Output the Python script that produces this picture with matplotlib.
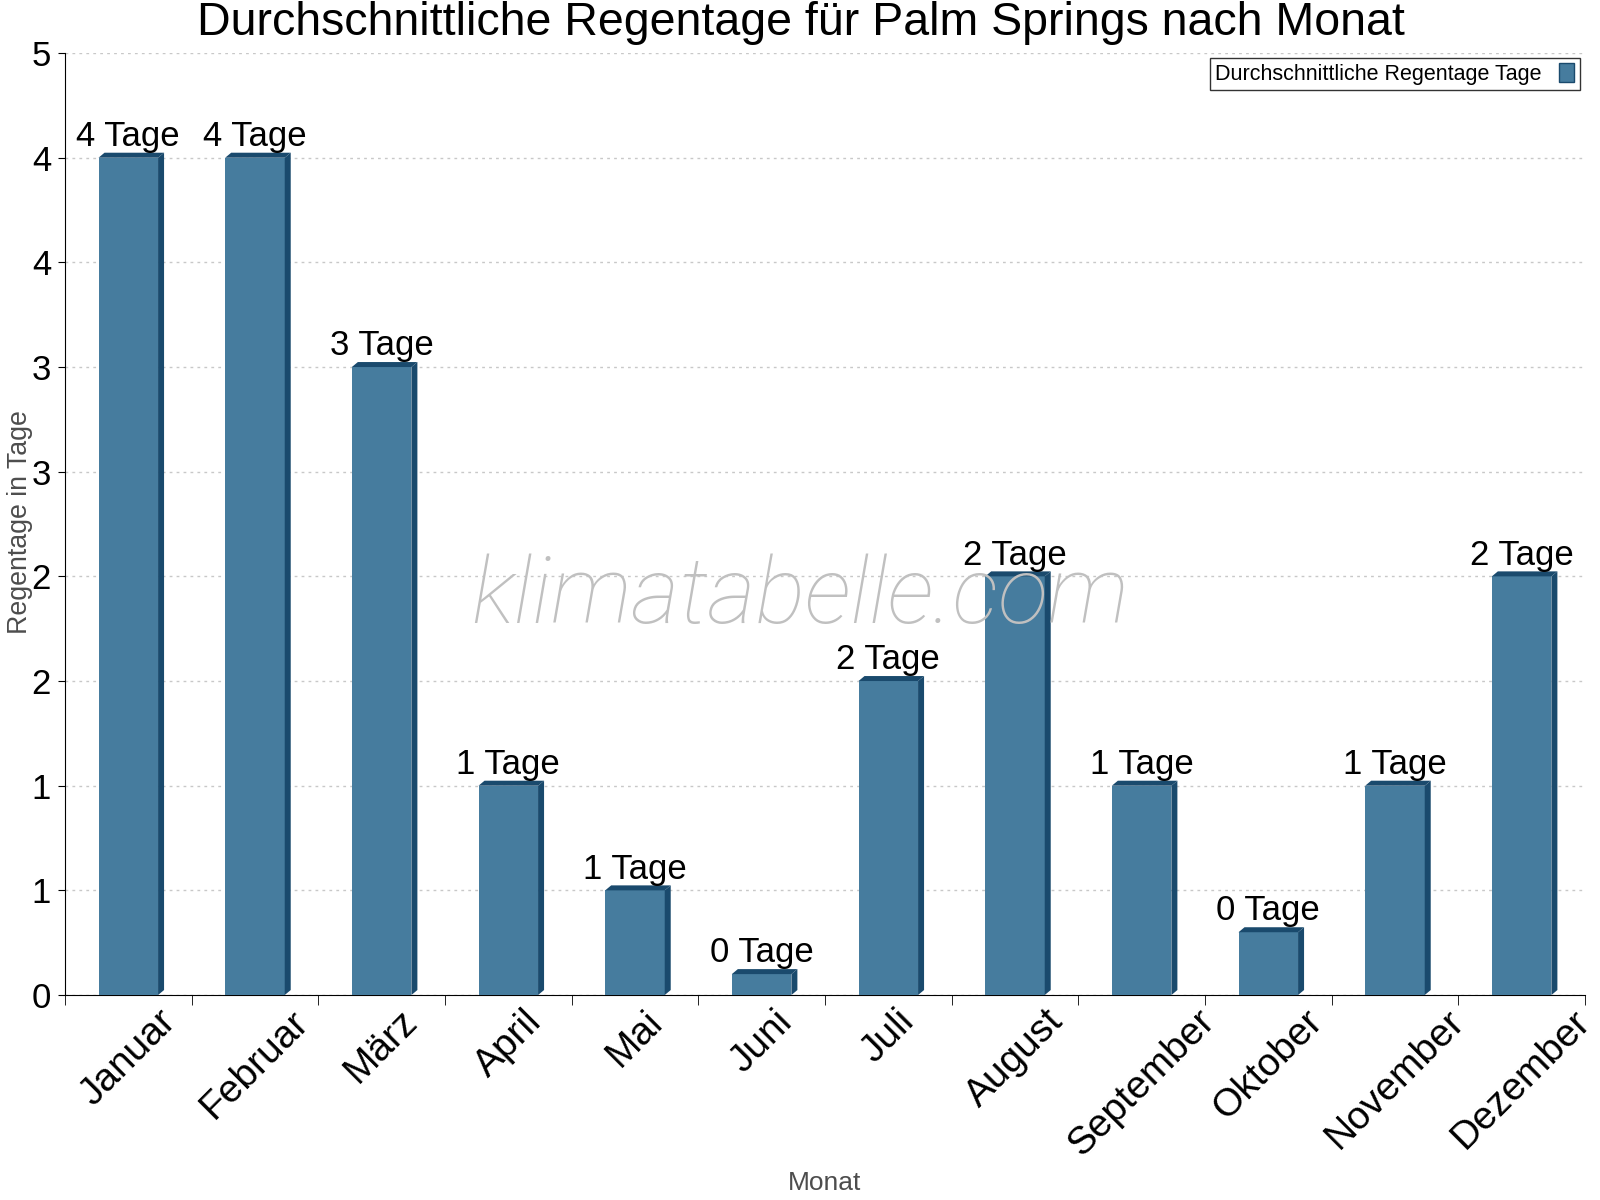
import matplotlib
matplotlib.use("Agg")
import matplotlib.pyplot as plt
import numpy as np
from matplotlib import ticker
from matplotlib.patches import Polygon

# Chart data
months = ["Januar", "Februar", "März", "April", "Mai", "Juni", "Juli",
          "August", "September", "Oktober", "November", "Dezember"]
rainDays = [4.0, 4.0, 3.0, 1.0, 0.5, 0.1, 1.5, 2.0, 1.0, 0.3, 1.0, 2.0]
yTicks = [0, 0.5, 1, 1.5, 2, 2.5, 3, 3.5, 4, 4.5]

frontColor = "#467c9e"
sideColor = "#1a4a6d"

plt.rcParams['font.family'] = ['Liberation Sans', 'DejaVu Sans']

fig = plt.figure(figsize=(16, 12), dpi=100)
ax = fig.add_axes([0.0406, 0.1708, 0.95, 0.785])

x = np.arange(len(months))
barWidth = 0.47
ax.set_xlim(-0.5, len(months) - 0.5)
ax.set_ylim(0, 4.5)

# pixel -> data conversion for the 3d depth
axW = fig.get_figwidth() * fig.dpi * 0.95
axH = fig.get_figheight() * fig.dpi * 0.785
dx = 6 * (len(months)) / axW
dy = 5 * 4.5 / axH

ax.bar(x, rainDays, width=barWidth, color=frontColor, zorder=3)
for xi, v in zip(x, rainDays):
    left = xi - barWidth / 2
    right = xi + barWidth / 2
    side = Polygon([(right, 0), (right + dx, dy), (right + dx, v + dy), (right, v)],
                   closed=True, facecolor=sideColor, edgecolor="none", zorder=3)
    top = Polygon([(left, v), (left + dx, v + dy), (right + dx, v + dy), (right, v)],
                  closed=True, facecolor=sideColor, edgecolor="none", zorder=3)
    ax.add_patch(side)
    ax.add_patch(top)
    ax.annotate(f"{int(np.floor(v + 0.5))} Tage", (xi, v), xytext=(0, 3.5),
                textcoords="offset points", ha="center", va="bottom",
                fontsize=25, color="black", zorder=5)

# axes styling
for s in ["top", "right"]:
    ax.spines[s].set_visible(False)
ax.spines["left"].set_color("black")
ax.spines["bottom"].set_color("black")

ax.set_yticks(yTicks)
ax.yaxis.set_major_formatter(ticker.FuncFormatter(lambda v, p: str(int(np.floor(v + 0.5)))))
ax.tick_params(axis="y", labelsize=25, length=5, pad=5, direction="out")

ax.set_xticks(x)
ax.set_xticklabels(months, rotation=45, ha="center")
ax.set_xticks(np.arange(-0.5, len(months)), minor=True)
ax.tick_params(axis="x", which="major", length=0, labelsize=28, pad=6)
ax.tick_params(axis="x", which="minor", length=7, direction="out")

ax.grid(axis="y", color="#c8c8c8", linestyle=(0, (2, 3)), linewidth=1, zorder=0)
ax.set_axisbelow(True)

fig.text(0.5006, 0.9812, "Durchschnittliche Regentage für Palm Springs nach Monat",
         ha="center", va="center", fontsize=33.5)
fig.text(0.0128, 0.565, "Regentage in Tage", rotation=90, ha="center", va="center",
         fontsize=19.3, color="#4d4d4d")
fig.text(0.5156, 0.014, "Monat", ha="center", va="center", fontsize=19, color="#4d4d4d")

fig.text(0.5, 0.481, "klimatabelle.com", ha="center", va="baseline", fontsize=67,
         family=["Roboto", "DejaVu Sans"], style="italic", weight="light",
         color="#c0c0c0", zorder=1)

leg = ax.legend(["Durchschnittliche Regentage Tage"], loc="upper right",
                bbox_to_anchor=(0.994, 0.961), bbox_transform=fig.transFigure,
                fontsize=15.5, frameon=True, fancybox=False, markerfirst=False,
                handlelength=0.7, handleheight=1.0, borderpad=0.25, handletextpad=0.8)
leg.get_frame().set_edgecolor("black")
leg.get_frame().set_linewidth(1)
leg.legend_handles[0].set_facecolor(frontColor)
leg.legend_handles[0].set_edgecolor(sideColor)

fig.savefig("out.png", dpi=100)
